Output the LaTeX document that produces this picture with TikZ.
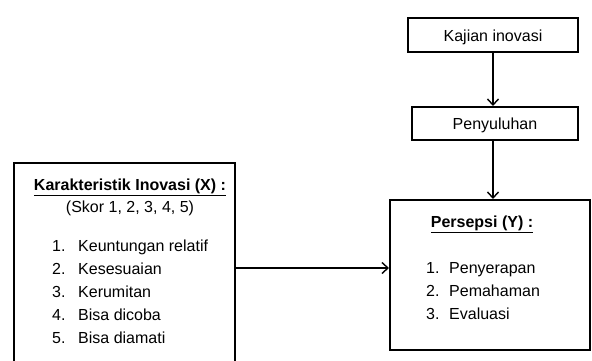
\documentclass[tikz,border=0pt]{standalone}
\usepackage{fontspec}
\setmainfont{Liberation Sans}
\usetikzlibrary{arrows.meta}
\begin{document}
\begin{tikzpicture}[x=1pt,y=-1pt,
  box/.style={draw, line width=2pt, rectangle, inner sep=0pt},
  conn/.style={line width=1.4pt, -{Straight Barb[length=6pt,width=11pt,line width=1.4pt]}},
  txt/.style={font=\fontsize{16}{19}\selectfont, inner sep=0pt, anchor=base west},
  ctxt/.style={font=\fontsize{16}{19}\selectfont, inner sep=0pt, anchor=base}]
\useasboundingbox (0,0) rectangle (592,360);
\clip (0,0) rectangle (592,360);
% boxes
\node[box, minimum width=170pt, minimum height=34pt] (kaj) at (493,35) {};
\node[box, minimum width=166pt, minimum height=33pt] (pen) at (495,123.5) {};
\node[box, minimum width=200pt, minimum height=150pt] (pers) at (490,275) {};
\node[box, minimum width=221pt, minimum height=209pt] (kar) at (124.5,267.5) {};
% box texts
\node[ctxt] (kajt) at (493,41) {Kajian inovasi};
\node[ctxt] (pent) at (495,129.5) {Penyuluhan};
% left box text
\node[ctxt] (kart) at (130,190) {\underline{\textbf{Karakteristik Inovasi (X) :}}};
\node[ctxt] (skor) at (130,212) {(Skor 1, 2, 3, 4, 5)};
\node[txt] (n1) at (52,251) {1.};  \node[txt] (i1) at (78,251) {Keuntungan relatif};
\node[txt] (n2) at (52,274) {2.};  \node[txt] (i2) at (78,274) {Kesesuaian};
\node[txt] (n3) at (52,297) {3.};  \node[txt] (i3) at (78,297) {Kerumitan};
\node[txt] (n4) at (52,320) {4.};  \node[txt] (i4) at (78,320) {Bisa dicoba};
\node[txt] (n5) at (52,343) {5.};  \node[txt] (i5) at (78,343) {Bisa diamati};
% right box text
\node[ctxt] (perst) at (482,227) {\underline{\textbf{Persepsi (Y) :}}};
\node[txt] (m1) at (426,273) {1.};  \node[txt] (j1) at (449,273) {Penyerapan};
\node[txt] (m2) at (426,296) {2.};  \node[txt] (j2) at (449,296) {Pemahaman};
\node[txt] (m3) at (426,319) {3.};  \node[txt] (j3) at (449,319) {Evaluasi};
% connectors
\coordinate (ay) at (0,268);
\draw[conn] (kaj.south) -- (kaj.south |- pen.north);
\draw[conn] (kaj.south |- pen.south) -- (kaj.south |- pers.north);
\draw[conn] (kar.east |- ay) -- (pers.west |- ay);
\end{tikzpicture}
\end{document}
